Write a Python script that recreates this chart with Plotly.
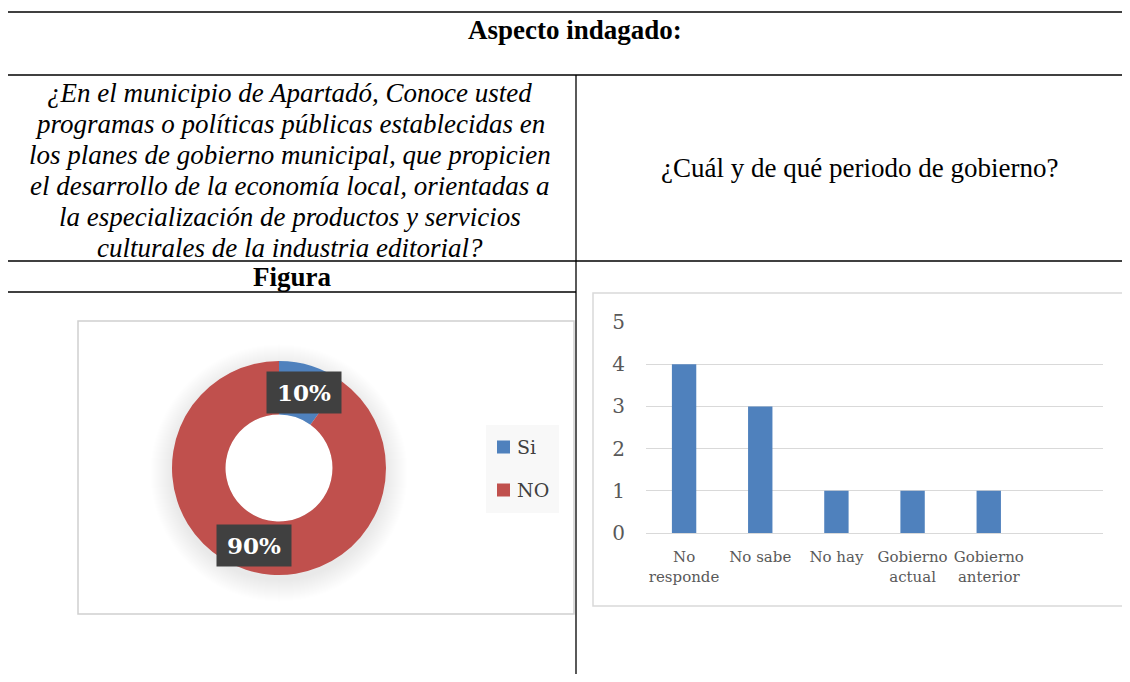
import plotly.graph_objects as go

# page body has an 8px default margin; keep the figure inside the 1130x682 window
OFF = 8
W, H = 1130 - 2 * OFF, 682 - 2 * OFF

# ---- data ----
pie_labels = ["Si", "NO"]
pie_values = [10, 90]
pie_colors = ["#4f81bd", "#c0504d"]

bar_categories = ["No<br>responde", "No sabe", "No hay", "Gobierno<br>actual", "Gobierno<br>anterior"]
bar_values = [4, 3, 1, 1, 1]
y_ticks = [0, 1, 2, 3, 4, 5]

header_text = "Aspecto indagado:"
question_lines = [
    "¿En el municipio de Apartadó, Conoce usted",
    "programas o políticas públicas establecidas en",
    "los planes de gobierno municipal, que propicien",
    "el desarrollo de la economía local, orientadas a",
    "la especialización de productos y servicios",
    "culturales de la industria editorial?",
]
right_question = "¿Cuál y de qué periodo de gobierno?"
figure_label = "Figura"


def px(x):
    return (x - OFF) / W


def py(y):
    return 1 - (y - OFF) / H


fig = go.Figure()

# donut
fig.add_trace(go.Pie(
    labels=pie_labels, values=pie_values,
    marker=dict(colors=pie_colors, line=dict(width=0)),
    hole=0.5, sort=False, direction="clockwise", rotation=0,
    textinfo="none", hoverinfo="label+percent", showlegend=False,
    domain=dict(x=[px(172), px(386)], y=[py(575), py(361)]),
))

# bar chart
fig.add_trace(go.Bar(
    x=bar_categories, y=bar_values, marker=dict(color="#4f81bd", line=dict(width=0)),
    width=0.32, showlegend=False,
))

fig.update_layout(
    template="none",
    width=W, height=H, autosize=False, showlegend=False,
    margin=dict(l=0, r=0, t=0, b=0, pad=0, autoexpand=False),
    paper_bgcolor="white", plot_bgcolor="rgba(0,0,0,0)",
    xaxis=dict(domain=[px(646), px(1103)], type="category", range=[-0.5, 5.5],
               automargin=False,
               showgrid=False, zeroline=False, showline=False, ticks="",
               tickfont=dict(family="DejaVu Serif", size=15, color="#595959"),
               ticklabelstandoff=13, fixedrange=True),
    yaxis=dict(domain=[py(533), py(322)], range=[0, 5], tickvals=y_ticks,
               automargin=False,
               showgrid=True, gridcolor="#d9d9d9", gridwidth=1.3,
               zeroline=True, zerolinecolor="#d9d9d9", zerolinewidth=1.3,
               showline=False, ticks="",
               tickfont=dict(family="DejaVu Serif", size=20, color="#595959"),
               ticklabelstandoff=20, fixedrange=True),
)

shapes = []
line_style = dict(color="black", width=1.3)
# table lines
for yy, x0, x1 in [(12, 3, 1130), (75, 3, 1130), (261, 3, 1130), (292, 3, 576)]:
    shapes.append(dict(type="line", xref="paper", yref="paper",
                       x0=px(x0), x1=px(x1), y0=py(yy), y1=py(yy), line=line_style))
shapes.append(dict(type="line", xref="paper", yref="paper",
                   x0=px(576), x1=px(576), y0=py(75), y1=py(682), line=line_style))
# chart boxes
shapes.append(dict(type="rect", xref="paper", yref="paper", layer="below",
                   x0=px(78), x1=px(574), y0=py(614), y1=py(321),
                   line=dict(color="#d0d0d0", width=1.5), fillcolor="white"))
shapes.append(dict(type="rect", xref="paper", yref="paper", layer="below",
                   x0=px(593), x1=px(1140), y0=py(606), y1=py(293),
                   line=dict(color="#d9d9d9", width=1.5), fillcolor="white"))
# soft shadow around the donut
cx, cy, r_out, r_in = 279, 470, 107, 53.5
for i in range(1, 23):
    r = r_out + i
    shapes.append(dict(type="circle", xref="paper", yref="paper", layer="below",
                       x0=px(cx - r), x1=px(cx + r), y0=py(cy + 3 + r), y1=py(cy + 3 - r),
                       line=dict(width=0), fillcolor="rgba(0,0,0,0.0045)"))
shapes.append(dict(type="circle", xref="paper", yref="paper", layer="below",
                   x0=px(cx - r_in), x1=px(cx + r_in), y0=py(cy - 2 + r_in), y1=py(cy - 2 - r_in),
                   line=dict(width=0), fillcolor="white"))
# legend box for donut
shapes.append(dict(type="rect", xref="paper", yref="paper", layer="below",
                   x0=px(486), x1=px(559), y0=py(513), y1=py(425),
                   line=dict(width=0), fillcolor="#f8f8f8"))
legend_y = [447, 490]
for lab, col, yy in zip(pie_labels, pie_colors, legend_y):
    shapes.append(dict(type="rect", xref="paper", yref="paper",
                       x0=px(497), x1=px(510), y0=py(yy + 6.5), y1=py(yy - 6.5),
                       line=dict(width=0), fillcolor=col))

annotations = []
serif = "Liberation Serif, Times New Roman, serif"
annotations.append(dict(text=f"<b>{header_text}</b>", x=px(575), y=py(30), xref="paper", yref="paper",
                        showarrow=False, xanchor="center", yanchor="middle",
                        font=dict(family=serif, size=27, color="black")))
for i, ln in enumerate(question_lines):
    annotations.append(dict(text=f"<i>{ln}</i>", x=px(290), y=py(93 + 31 * i), xref="paper", yref="paper",
                            showarrow=False, xanchor="center", yanchor="middle",
                            font=dict(family=serif, size=27, color="black")))
annotations.append(dict(text=right_question, x=px(859), y=py(168), xref="paper", yref="paper",
                        showarrow=False, xanchor="center", yanchor="middle",
                        font=dict(family=serif, size=27, color="black")))
annotations.append(dict(text=f"<b>{figure_label}</b>", x=px(292), y=py(277), xref="paper", yref="paper",
                        showarrow=False, xanchor="center", yanchor="middle",
                        font=dict(family=serif, size=27, color="black")))

# legend texts
for lab, yy in zip(pie_labels, legend_y):
    annotations.append(dict(text=lab, x=px(515), y=py(yy), xref="paper", yref="paper",
                            showarrow=False, xanchor="left", yanchor="middle",
                            font=dict(family="DejaVu Serif", size=19, color="#404040")))

# data labels for donut
total = sum(pie_values)
label_pos = [(304, 392), (254, 545)]
for v, (lx, ly) in zip(pie_values, label_pos):
    txt = f"<b>{v / total * 100:.0f}%</b>"
    annotations.append(dict(text=txt, x=px(lx), y=py(ly), xref="paper", yref="paper",
                            showarrow=False, xanchor="center", yanchor="middle",
                            width=70, height=37, borderpad=2, bgcolor="#404040",
                            font=dict(family="DejaVu Serif", size=23, color="white")))

fig.update_layout(shapes=shapes, annotations=annotations)
fig.write_html("out.html")
